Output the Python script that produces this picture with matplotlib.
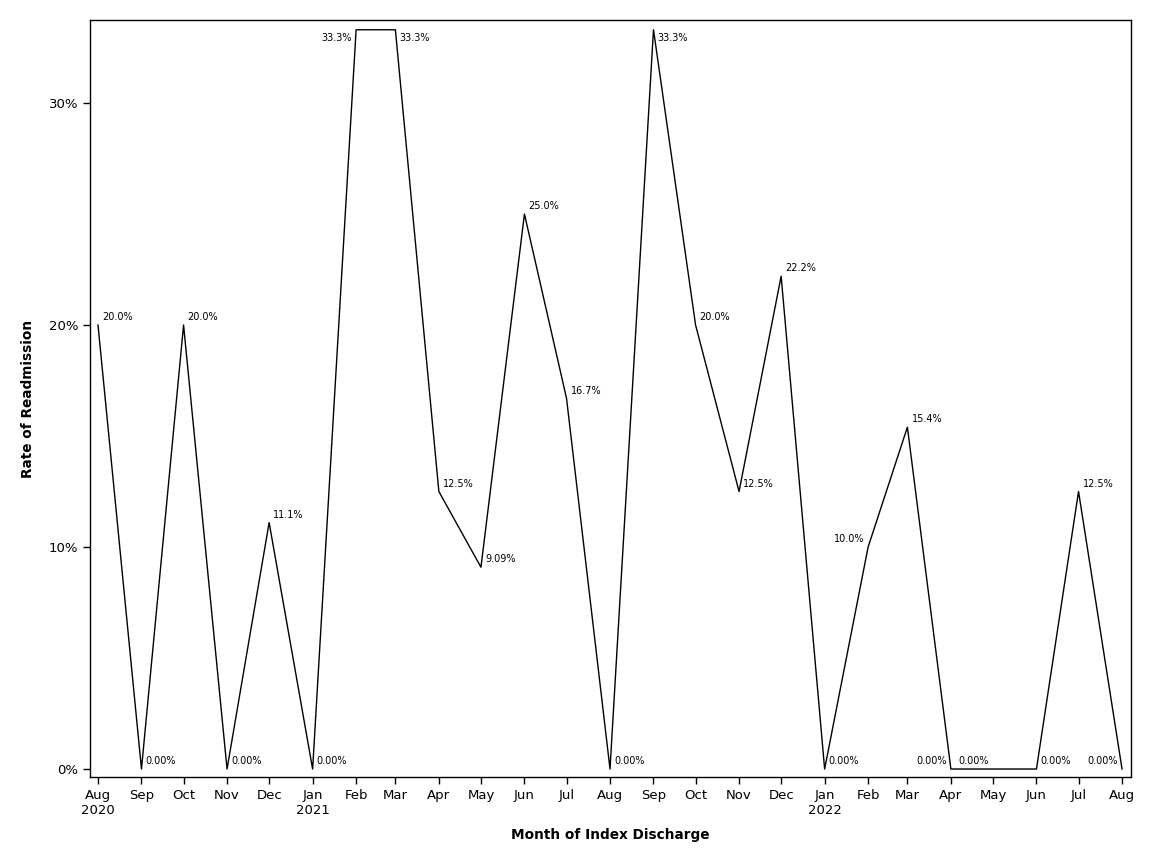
import matplotlib
matplotlib.use("Agg")
import matplotlib.pyplot as plt
import matplotlib.dates as mdates
import numpy as np
import datetime as dt

months = ["2020-08", "2020-09", "2020-10", "2020-11", "2020-12",
          "2021-01", "2021-02", "2021-03", "2021-04", "2021-05", "2021-06",
          "2021-07", "2021-08", "2021-09", "2021-10", "2021-11", "2021-12",
          "2022-01", "2022-02", "2022-03", "2022-04", "2022-05", "2022-06",
          "2022-07", "2022-08"]
rates = [20.0, 0.0, 20.0, 0.0, 11.1, 0.0, 33.3, 33.3, 12.5, 9.09, 25.0,
         16.7, 0.0, 33.3, 20.0, 12.5, 22.2, 0.0, 10.0, 15.4, 0.0, 0.0, 0.0,
         12.5, 0.0]
point_labels = ["20.0%", "0.00%", "20.0%", "0.00%", "11.1%", "0.00%", "33.3%",
                "33.3%", "12.5%", "9.09%", "25.0%", "16.7%", "0.00%", "33.3%",
                "20.0%", "12.5%", "22.2%", "0.00%", "10.0%", "15.4%", "0.00%",
                "0.00%", "0.00%", "12.5%", "0.00%"]
# horizontal side (r/l) and vertical side (a = above, b = below)
label_side = ["ra", "ra", "ra", "ra", "ra", "ra", "lb", "rb", "ra", "ra", "ra",
              "ra", "ra", "rb", "ra", "ra", "ra", "ra", "la", "ra", "la", "la",
              "ra", "ra", "la"]
tick_labels = ["Aug\n2020", "Sep", "Oct", "Nov", "Dec", "Jan\n2021", "Feb",
               "Mar", "Apr", "May", "Jun", "Jul", "Aug", "Sep", "Oct", "Nov",
               "Dec", "Jan\n2022", "Feb", "Mar", "Apr", "May", "Jun", "Jul",
               "Aug"]
y_ticks = [0, 10, 20, 30]
y_tick_labels = ["0%", "10%", "20%", "30%"]

dates = [dt.datetime.strptime(m + "-01", "%Y-%m-%d") for m in months]
x = mdates.date2num(dates)

plt.rcParams['font.family'] = ['DejaVu Sans']
fig = plt.figure(figsize=(11.52, 8.64), dpi=100)
ax = fig.add_axes([90 / 1152, 1 - 777 / 864, (1131 - 90) / 1152, (777 - 20) / 864])

ax.plot(x, rates, color="black", linewidth=1.0)

for xi, yi, lab, side in zip(x, rates, point_labels, label_side):
    dx = 3 if side[0] == "r" else -3
    ha = "left" if side[0] == "r" else "right"
    if side[1] == "a":
        dy, va = 2, "bottom"
    else:
        dy, va = -2, "top"
    ax.annotate(lab, (xi, yi), xytext=(dx, dy), textcoords="offset points",
                ha=ha, va=va, fontsize=7)

ax.set_xlim(x[0] - 5.7, x[-1] + 6.4)
ax.set_ylim(-0.36, 33.74)
ax.set_xticks(x)
ax.set_xticklabels(tick_labels, fontsize=9.5, linespacing=1.25)
ax.set_yticks(y_ticks)
ax.set_yticklabels(y_tick_labels, fontsize=9.5)
ax.tick_params(direction="out", length=5, width=1, color="black")
for s in ax.spines.values():
    s.set_linewidth(1.0)

ax.set_xlabel("Month of Index Discharge", fontsize=9.8, fontweight="bold", labelpad=8)
ax.set_ylabel("Rate of Readmission", fontsize=9.8, fontweight="bold", labelpad=10)

fig.savefig("out.png", dpi=100)
